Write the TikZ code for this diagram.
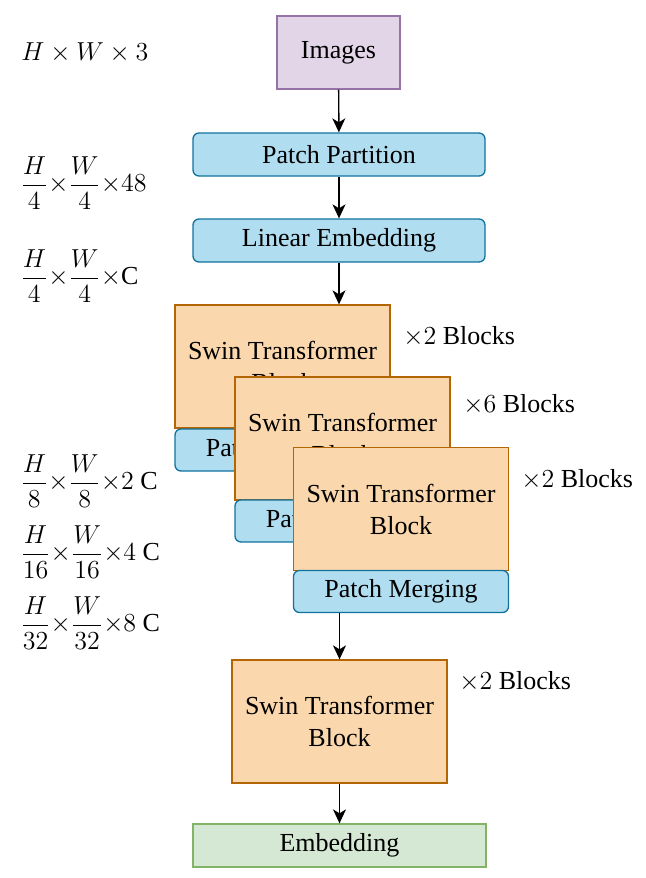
\RequirePackage{fix-cm}
\documentclass[tikz,border=0pt]{standalone}
\usepackage{amsmath}
\usepackage[no-math]{fontspec}
\IfFontExistsTF{LiberationSerif-Regular.ttf}
  {\newfontfamily\labelfont{LiberationSerif-Regular.ttf}}
  {\newfontfamily\labelfont{Liberation Serif}}
\setmainfont{Liberation Serif}
\usetikzlibrary{arrows.meta}
\definecolor{imgfill}{HTML}{E1D5E7}
\definecolor{imgline}{HTML}{9673A6}
\definecolor{layerfill}{HTML}{B1DDF0}
\definecolor{layerline}{HTML}{10739E}
\definecolor{stagefill}{HTML}{FAD7AC}
\definecolor{stageline}{HTML}{B46504}
\definecolor{outfill}{HTML}{D5E8D4}
\definecolor{outline}{HTML}{82B366}
\tikzset{box/.style = {draw, line width = 0.65pt, inner sep = 0pt, align = center, font = \labelfont\fontsize{13}{16}\selectfont}}
\tikzset{input/.style = {box, fill = imgfill, draw = imgline, minimum width = 61.5pt, minimum height = 36.5pt}}
\tikzset{layer/.style = {box, rounded corners = 3pt, fill = layerfill, draw = layerline, minimum width = 146pt, minimum height = 21.5pt}}
\tikzset{merge/.style = {layer, minimum width = 107.5pt, minimum height = 21pt}}
\tikzset{stage/.style = {box, fill = stagefill, draw = stageline, minimum width = 107.5pt, minimum height = 61.5pt}}
\tikzset{output/.style = {box, fill = outfill, draw = outline, minimum width = 146.5pt, minimum height = 21.5pt}}
\tikzset{dims/.style = {anchor = west, inner sep = 0pt, font = \labelfont\fontsize{13}{16}\selectfont}}
\tikzset{edge/.style = {-{Stealth[length = 7pt, width = 6.5pt, inset = 2pt]}, line width = 0.7pt}}

\begin{document}
\begin{tikzpicture}[x = 0.5pt, y = -0.5pt]
	\useasboundingbox (0, 0) rectangle (646, 878);

	\node[input] (img) at (338.5, 52.5) {Images};
	\node[layer] (pp) at (339, 154.5) {Patch Partition};
	\node[layer] (le) at (339, 240.5) {Linear Embedding};

	\node[stage] (sb1) at (282.5, 366.5) {Swin Transformer\\Block};
	\node[merge] (pm1) at (282.5, 450) {Patch Merging};
	\node[stage] (sb2) at (342.5, 438.5) {Swin Transformer\\Block};
	\node[merge] (pm2) at (342.5, 521) {Patch Merging};
	\node[stage] (sb3) at (401, 509) {Swin Transformer\\Block};
	\node[merge] (pm3) at (401, 591.5) {Patch Merging};

	\node[stage] (sb4) at (339.5, 721.5) {Swin Transformer\\Block};
	\node[output] (emb) at (339.5, 845.5) {Embedding};

	\node[dims] (rep1) at (403, 337) {$\times2$ Blocks};
	\node[dims] (rep2) at (463, 404.5) {$\times6$ Blocks};
	\node[dims] (rep3) at (521, 480) {$\times2$ Blocks};
	\node[dims] (rep4) at (459, 682) {$\times2$ Blocks};

	\node[dims] (d0) at (21, 53) {$H\times W\times 3$};
	\node[dims] (d1) at (20, 183) {$\dfrac{H}{4}{\times}\dfrac{W}{4}{\times}48$};
	\node[dims] (d2) at (20, 276) {$\dfrac{H}{4}{\times}\dfrac{W}{4}{\times}$C};
	\node[dims] (d3) at (20, 481) {$\dfrac{H}{8}{\times}\dfrac{W}{8}{\times}2$ C};
	\node[dims] (d4) at (20, 552) {$\dfrac{H}{16}{\times}\dfrac{W}{16}{\times}4$ C};
	\node[dims] (d5) at (20, 623) {$\dfrac{H}{32}{\times}\dfrac{W}{32}{\times}8$ C};

	\draw[edge] (img) to (pp);
	\draw[edge] (pp) to (le);
	\draw[edge] (le.south) to (le.south |- sb1.north);
	\draw[edge] (pm3.south -| sb4.north) to (sb4.north);
	\draw[edge] (sb4) to (emb);
\end{tikzpicture}
\end{document}
